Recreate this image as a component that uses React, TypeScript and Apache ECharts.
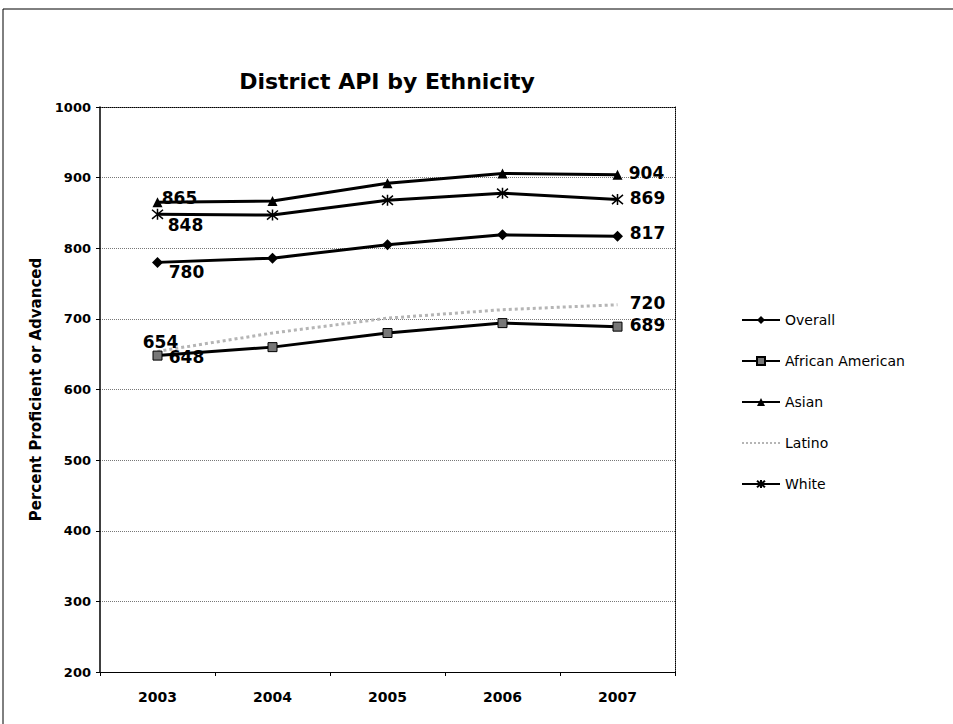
import React, { useEffect, useRef } from "react";
import * as echarts from "echarts";

const years = ["2003", "2004", "2005", "2006", "2007"];
const seriesNames = ["Overall", "African American", "Asian", "Latino", "White"];
const overall = [780, 786, 805, 819, 817];
const africanAmerican = [648, 660, 680, 694, 689];
const asian = [865, 867, 892, 906, 904];
const latino = [654, 680, 701, 713, 720];
const white = [848, 847, 868, 878, 869];

const ASTERISK = "path://M0,0L10,10M10,0L0,10M5,-1L5,11";

export default function App() {
  const ref = useRef<HTMLDivElement>(null);
  useEffect(() => {
    if (!ref.current) return;
    const chart = echarts.init(ref.current, null, { renderer: "svg" });
    const font = "DejaVu Sans";
    const lbl = (offset: number[]) => ({
      show: true,
      position: "inside",
      offset,
      fontFamily: font,
      fontWeight: "bold",
      fontSize: 17,
      color: "#000",
    });
    const mk = (
      name: string,
      values: number[],
      symbol: string,
      symbolSize: number,
      line: any,
      firstLabel: any,
      lastLabel: any,
      item: any
    ) => ({
      name,
      type: "line",
      symbol,
      symbolSize,
      showSymbol: true,
      lineStyle: line,
      itemStyle: item,
      z: name === "Latino" ? 1 : 2,
      data: values.map((v, i) => ({
        value: v,
        label:
          i === 0 ? firstLabel : i === values.length - 1 ? lastLabel : { show: false },
      })),
    });
    const solid = { color: "#000", width: 3 };
    chart.setOption({
      animation: false,
      backgroundColor: "#fff",
      title: {
        text: "District API by Ethnicity",
        left: 382,
        top: 65,
        textAlign: "center",
        textStyle: { fontFamily: font, fontWeight: "bold", fontSize: 22, color: "#000" },
      },
      graphic: [
        {
          type: "rect",
          shape: { x: 3, y: 9, width: 970, height: 730 },
          style: { fill: "none", stroke: "#000", lineWidth: 1 },
          silent: true,
        },
      ],
      grid: { left: 100, right: 278, top: 107, bottom: 52 },
      legend: {
        orient: "vertical",
        left: 736,
        top: 308,
        itemGap: 27,
        itemWidth: 38,
        itemHeight: 10,
        data: seriesNames,
        textStyle: { fontFamily: font, fontSize: 14, color: "#000" },
      },
      xAxis: [
        {
          type: "category",
          data: years,
          boundaryGap: true,
          axisLine: { lineStyle: { color: "#000", width: 1 } },
          axisTick: { show: true, length: 4, lineStyle: { color: "#000" } },
          axisLabel: { fontFamily: font, fontWeight: "bold", fontSize: 14, color: "#000", margin: 18 },
        },
        {
          type: "category",
          data: years,
          position: "top",
          boundaryGap: true,
          axisLine: { lineStyle: { color: "#000", width: 1, type: "dotted" } },
          axisTick: { show: false },
          axisLabel: { show: false },
        },
      ],
      yAxis: [
        {
          type: "value",
          min: 200,
          max: 1000,
          interval: 100,
          name: "Percent Proficient or Advanced",
          nameLocation: "middle",
          nameGap: 55,
          nameTextStyle: { fontFamily: font, fontWeight: "bold", fontSize: 15, color: "#000" },
          axisLine: { show: true, lineStyle: { color: "#000", width: 1.5 } },
          axisTick: { show: true, length: 4, lineStyle: { color: "#000" } },
          axisLabel: {
            fontFamily: font,
            fontWeight: "bold",
            fontSize: 13,
            color: "#000",
            margin: 9,
            formatter: (v: number) => String(v),
          },
          splitLine: { lineStyle: { color: "#777", type: "dotted", width: 1 } },
        },
        {
          type: "value",
          min: 200,
          max: 1000,
          interval: 100,
          position: "right",
          axisLine: { show: true, lineStyle: { color: "#000", width: 1, type: "dotted" } },
          axisTick: { show: false },
          axisLabel: { show: false },
          splitLine: { show: false },
        },
      ],
      series: [
        mk("Overall", overall, "diamond", 11, solid, lbl([29, 10]), lbl([30, -3]), { color: "#000" }),
        mk(
          "African American",
          africanAmerican,
          "rect",
          9,
          solid,
          lbl([29, 1]),
          lbl([30, -2]),
          { color: "#777", borderColor: "#000", borderWidth: 1 }
        ),
        mk("Asian", asian, "triangle", 10, solid, lbl([22, -4]), lbl([29, -2]), { color: "#000" }),
        mk(
          "Latino",
          latino,
          "circle",
          6,
          { color: "#b5b5b5", width: 3, type: "dotted" },
          lbl([3, -9]),
          lbl([30, -2]),
          { color: "rgba(0,0,0,0)", borderColor: "rgba(0,0,0,0)", borderWidth: 0 }
        ),
        mk(
          "White",
          white,
          ASTERISK,
          11,
          solid,
          lbl([28, 11]),
          lbl([30, -2]),
          { color: "none", borderColor: "#000", borderWidth: 1.5 }
        ),
      ],
    });
    return () => chart.dispose();
  }, []);
  return (
    <div
      ref={ref}
      style={{ position: "absolute", left: 0, top: 0, width: 953, height: 724 }}
    />
  );
}
